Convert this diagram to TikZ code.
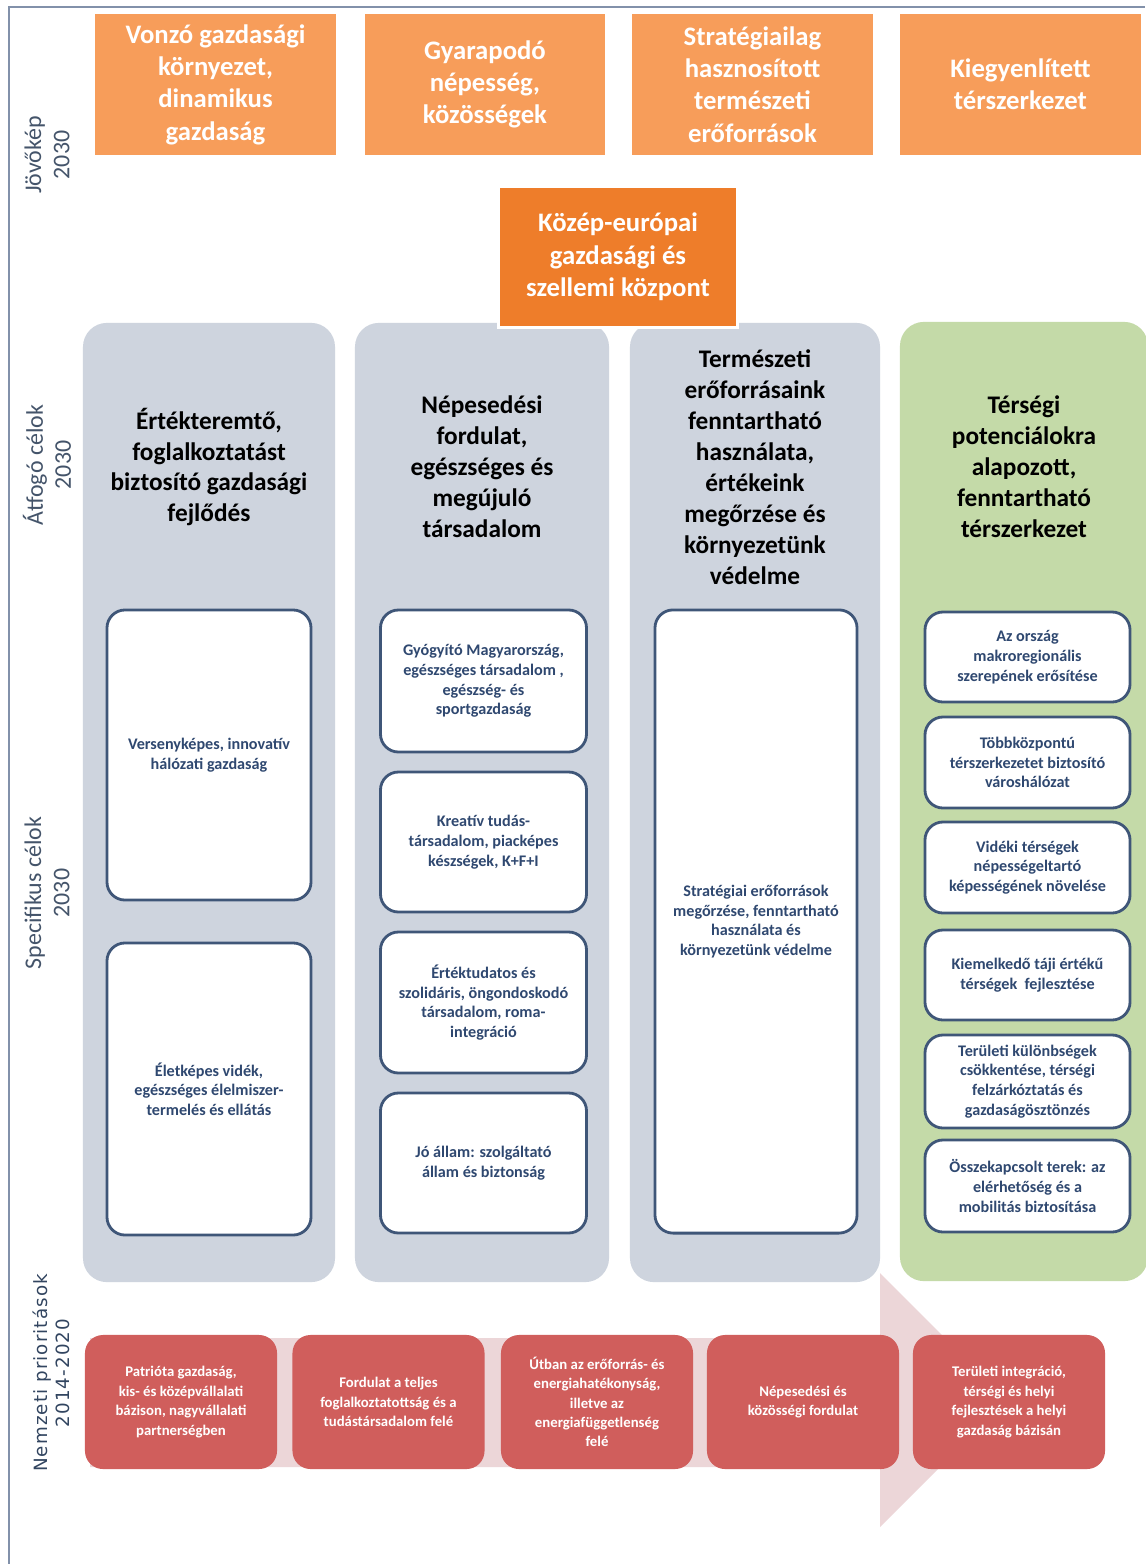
\documentclass[tikz,border=0pt]{standalone}
\usepackage{fontspec}
\setmainfont{Carlito}
\newfontfamily\widefont[LetterSpace=6]{DejaVu Sans}
\definecolor{orLight}{RGB}{247,157,90}
\definecolor{orDark}{RGB}{238,125,42}
\definecolor{colGray}{RGB}{206,212,222}
\definecolor{colGreen}{RGB}{196,218,168}
\definecolor{goalLine}{RGB}{63,86,120}
\definecolor{goalText}{RGB}{47,72,112}
\definecolor{prioRed}{RGB}{208,94,92}
\definecolor{arrowPink}{RGB}{236,214,216}
\definecolor{labelText}{RGB}{68,84,106}
\definecolor{frameLine}{RGB}{130,145,170}
\tikzset{
  vision/.style={fill=orLight, text=white, font=\bfseries\fontsize{19}{23}\selectfont,
    align=center, minimum width=6cm, minimum height=3.525cm, inner sep=0pt},
  column/.style={fill=colGray, rounded corners=0.6cm, minimum width=6.3cm,
    minimum height=23.975cm, inner sep=0pt},
  coltitle/.style={font=\bfseries\fontsize{18}{22}\selectfont, align=center},
  goal/.style={draw=goalLine, line width=2pt, fill=white, rounded corners=0.45cm,
    text=goalText, font=\bfseries\fontsize{11.5}{14}\selectfont, align=center,
    minimum width=5.15cm, inner sep=2pt},
  priority/.style={fill=prioRed, rounded corners=0.45cm, text=white,
    font=\bfseries\fontsize{10.5}{13.8}\selectfont, align=center,
    minimum width=4.8cm, minimum height=3.35cm, inner sep=1pt},
  rowlabel/.style={rotate=90, text=labelText, align=center, font=\fontsize{17}{20}\selectfont}
}
\begin{document}
\begin{tikzpicture}[x=0.025cm, y=-0.025cm]
  \useasboundingbox (0,0) rectangle (1145,1564);
  \fill[white] (0,0) rectangle (1145,1564);
  \draw[frameLine, line width=1pt] (9,1564) -- (9,7) -- (1145,7);

  % row labels
  \node[rowlabel] (lVision) at (47,155) {Jövőkép\\2030};
  \node[rowlabel] (lGoals) at (47,465) {Átfogó célok\\2030};
  \node[rowlabel] (lSpecific) at (47,893) {Specifikus célok\\2030};
  \node[rowlabel, text=goalLine!80!black, font=\widefont\fontsize{13}{15.5}\selectfont]
    (lPriority) at (51,1373) {Nemzeti prioritások\\2014-2020};

  % vision
  \node[vision] (v1) at (215.5,84.5) {Vonzó gazdasági\\környezet,\\dinamikus\\gazdaság};
  \node[vision] (v2) at (485,84.5) {Gyarapodó\\népesség,\\közösségek};
  \node[vision] (v3) at (752.5,84.5) {Stratégiailag\\hasznosított\\természeti\\erőforrások};
  \node[vision] (v4) at (1020.5,84.5) {Kiegyenlített\\térszerkezet};

  % columns
  \node[column] (c1) at (209,802.5) {};
  \node[column, minimum width=6.35cm] (c2) at (482,802.5) {};
  \node[column, minimum width=6.25cm] (c3) at (755,802.5) {};
  \node[column, fill=colGreen, minimum width=6.2cm] (c4) at (1024,801.5) {};

  \node[vision, fill=orDark, draw=white, line width=1.5pt, minimum width=5.975cm]
    (hub) at (618,257) {Közép-európai\\gazdasági és\\szellemi központ};

  \node[coltitle] (t1) at (c1 |- 0,467) {Értékteremtő,\\foglalkoztatást\\biztosító gazdasági\\fejlődés};
  \node[coltitle] (t2) at (c2 |- 0,467) {Népesedési\\fordulat,\\egészséges és\\megújuló\\társadalom};
  \node[coltitle] (t3) at (c3 |- 0,467) {Természeti\\erőforrásaink\\fenntartható\\használata,\\értékeink\\megőrzése és\\környezetünk\\védelme};
  \node[coltitle] (t4) at (c4 |- 0,467) {Térségi\\potenciálokra\\alapozott,\\fenntartható\\térszerkezet};

  % specific goals
  \node[goal, minimum width=5.1cm, minimum height=7.25cm] (s11) at (209,755) {Versenyképes, innovatív\\hálózati gazdaság};
  \node[goal, minimum width=5.1cm, minimum height=7.3cm] (s12) at (209,1089) {Életképes vidék,\\egészséges élelmiszer-\\termelés és ellátás};

  \node[goal, minimum height=3.55cm] (s21) at (483.5,681) {Gyógyító Magyarország,\\egészséges társadalom ,\\egészség- és\\sportgazdaság};
  \node[goal, minimum height=3.5cm] (s22) at (483.5,842) {Kreatív tudás-\\társadalom, piacképes\\készségek, K+F+I};
  \node[goal, minimum height=3.525cm] (s23) at (483.5,1002.5) {Értéktudatos és\\szolidáris, öngondoskodó\\társadalom, roma-\\integráció};
  \node[goal, minimum height=3.5cm] (s24) at (483.5,1163) {Jó állam: szolgáltató\\állam és biztonság};

  \node[goal, minimum width=5.05cm, minimum height=15.575cm] (s31) at (756,921.5) {Stratégiai erőforrások\\megőrzése, fenntartható\\használata és\\környezetünk védelme};

  \node[goal, minimum width=5.125cm, minimum height=2.25cm] (s41) at (1027.5,657) {Az ország\\makroregionális\\szerepének erősítése};
  \node[goal, minimum width=5.125cm, minimum height=2.275cm] (s42) at (1027.5,762.5) {Többközpontú\\térszerkezetet biztosító\\városhálózat};
  \node[goal, minimum width=5.125cm, minimum height=2.275cm] (s43) at (1027.5,867.5) {Vidéki térségek\\népességeltartó\\képességének növelése};
  \node[goal, minimum width=5.125cm, minimum height=2.25cm] (s44) at (1027.5,975) {Kiemelkedő táji értékű\\térségek\ \ fejlesztése};
  \node[goal, minimum width=5.125cm, minimum height=2.325cm] (s45) at (1027.5,1081.5) {Területi különbségek\\csökkentése, térségi\\felzárkóztatás és\\gazdaságösztönzés};
  \node[goal, minimum width=5.125cm, minimum height=2.3cm] (s46) at (1027.5,1186) {Összekapcsolt terek: az\\elérhetőség és a\\mobilitás biztosítása};

  % priorities on the arrow
  \fill[arrowPink] (90,1338) -- (880,1338) -- (880,1273) -- (1007,1400)
    -- (880,1527) -- (880,1467) -- (90,1467) -- cycle;
  \node[priority] (p1) at (181,1402) {Patrióta gazdaság,\\kis- és középvállalati\\bázison, nagyvállalati\\partnerségben};
  \node[priority] (p2) at (388.5,1402) {Fordulat a teljes\\foglalkoztatottság és a\\tudástársadalom felé};
  \node[priority] (p3) at (597,1402) {Útban az erőforrás- és\\energiahatékonyság,\\illetve az\\energiafüggetlenség\\felé};
  \node[priority] (p4) at (803,1402) {Népesedési és\\közösségi fordulat};
  \node[priority] (p5) at (1009,1402) {Területi integráció,\\térségi és helyi\\fejlesztések a helyi\\gazdaság bázisán};
\end{tikzpicture}
\end{document}
